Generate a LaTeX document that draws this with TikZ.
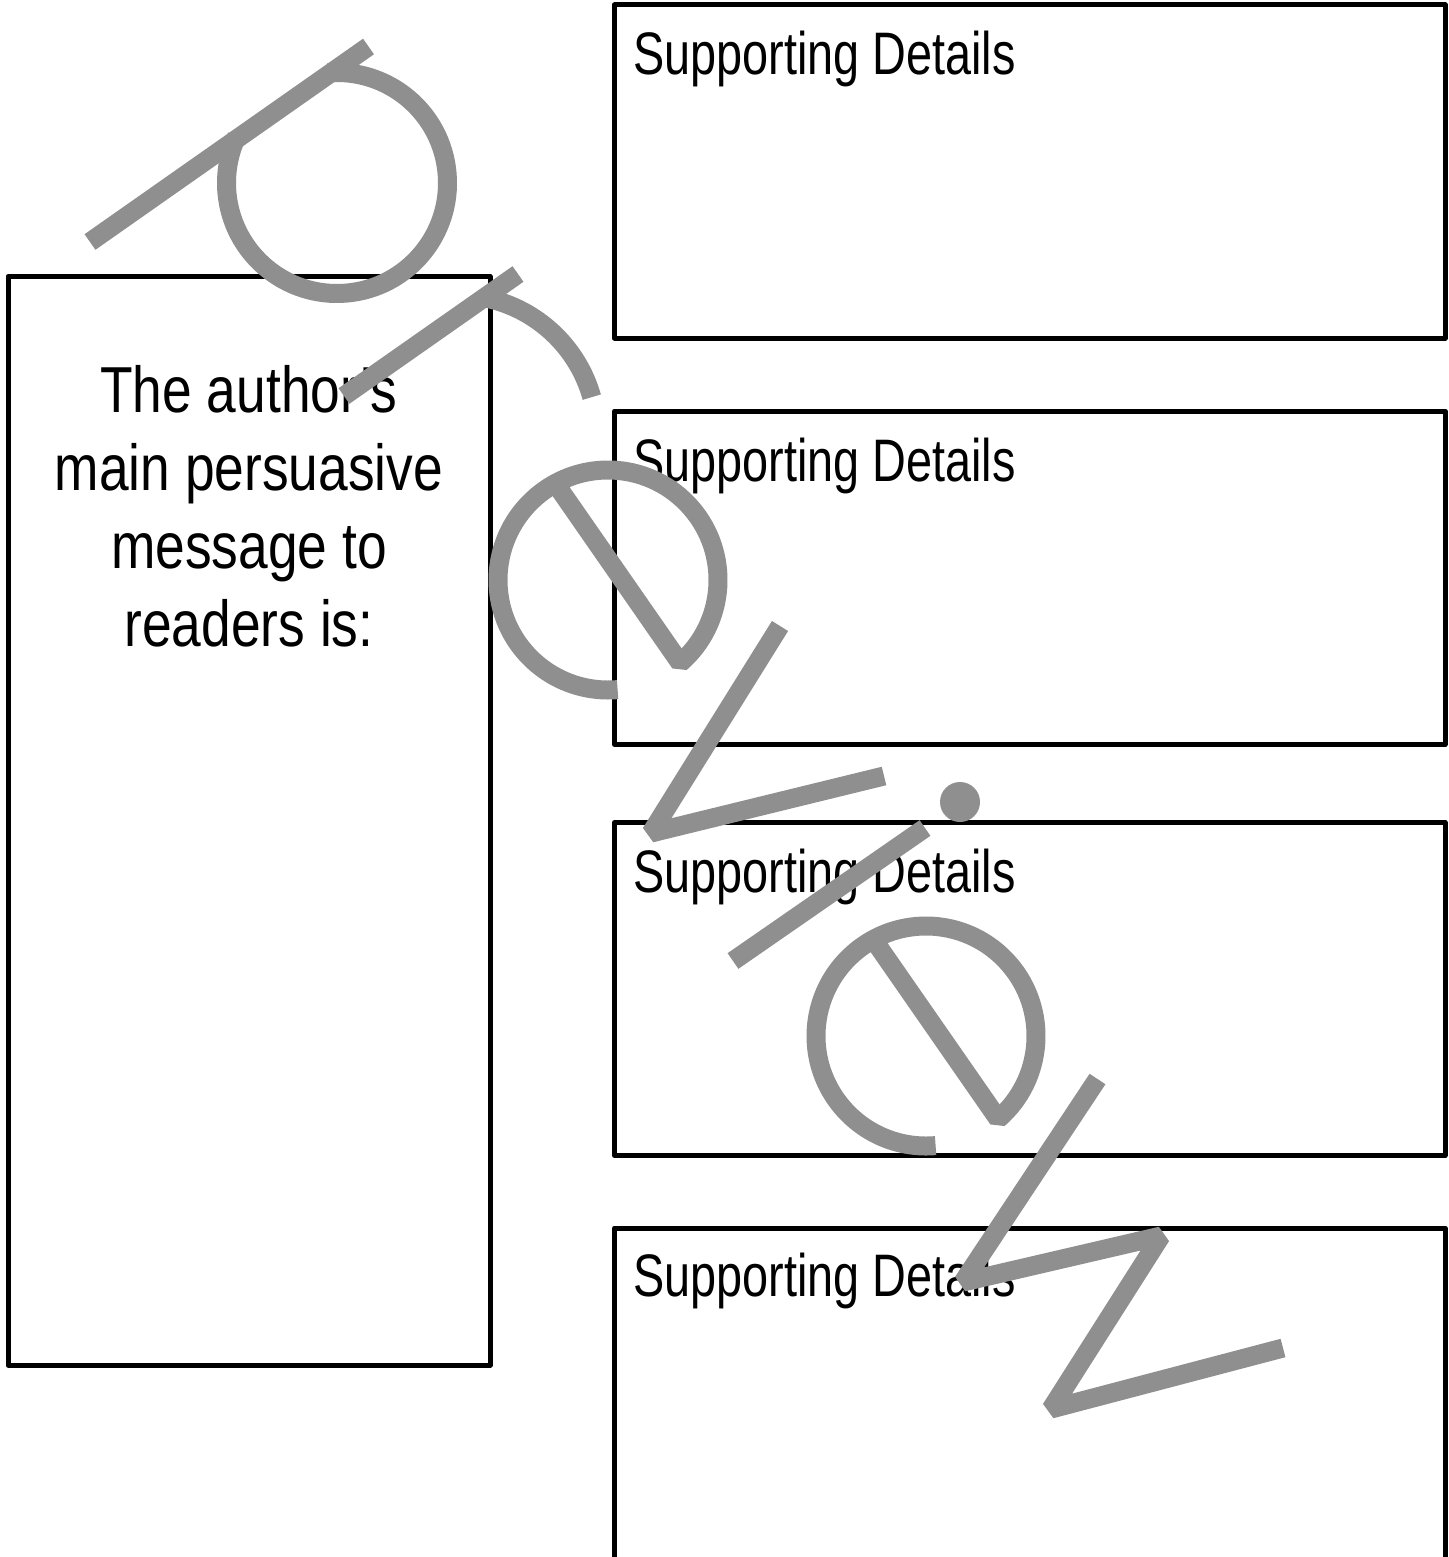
\documentclass[tikz,border=0pt]{standalone}
\usepackage{fontspec}
\setmainfont{Liberation Sans}
\usepackage{graphicx}
\usetikzlibrary{calc}
\definecolor{wmgray}{RGB}{143,143,143}
\begin{document}
\begin{tikzpicture}[x=1pt,y=-1pt,
  box/.style={draw=black,line width=5pt,line join=round},
  wm/.style={draw=wmgray,line width=19pt,line join=bevel},
  sdlabel/.style={anchor=base west,inner sep=0pt,font=\fontsize{60}{72}\selectfont},
  msglabel/.style={anchor=base,inner sep=0pt,font=\fontsize{65}{78}\selectfont}]
\useasboundingbox (0,0) rectangle (1448,1557);
\clip (0,0) rectangle (1448,1557);
\fill[white] (0,0) rectangle (1448,1557);

% boxes
\draw[box] (8,276.5) rectangle (490,1365);
\draw[box] (614.5,5) rectangle (1445,338);
\draw[box] (614.5,411) rectangle (1445,744.5);
\draw[box] (614.5,822.5) rectangle (1445,1155.5);
\draw[box] (614.5,1228) rectangle (1445,1620);

% texts
\node[msglabel] (msg) at (249,412) {\scalebox{0.82}[1]{\begin{tabular}[t]{@{}c@{}}The author's\\ main persuasive\\ message to\\ readers is:\end{tabular}}};
\node[sdlabel] (sd1) at (633,75) {\scalebox{0.78}[1]{Supporting Details}};
\node[sdlabel] (sd2) at (633,481) {\scalebox{0.78}[1]{Supporting Details}};
\node[sdlabel] (sd3) at (633,892.5) {\scalebox{0.78}[1]{Supporting Details}};
\node[sdlabel] (sd4) at (633,1296) {\scalebox{0.78}[1]{Supporting Details}};

% watermark "Preview"
% P
\draw[wm] (90,242) -- (368.5,46.5);
\draw[wm] ($(337,183)+(-95:110.5)$) arc[start angle=-95,end angle=205,radius=110.5];
% r
\draw[wm] (344,396) -- (518,274);
\draw[wm] ($(457,435)+(-78:140)$) arc[start angle=-78,end angle=-15.7,radius=140];
% e
\draw[wm] (560,490) -- ($(608,580)+(49:110)$) arc[start angle=49,end angle=-275,radius=110];
% v
\draw[wm] (780,626) -- (651,833) -- (884,776);
% i
\draw[wm] (733,961) -- (925,828);
\fill[wmgray] (960,802) circle[radius=20];
% e
\draw[wm] (878,946) -- ($(926,1036)+(49:110)$) arc[start angle=49,end angle=-275,radius=110];
% w
\draw[wm] (1097.5,1079) -- (963,1282) -- (1161,1236) -- (1051,1409) -- (1283,1348);
\end{tikzpicture}
\end{document}
